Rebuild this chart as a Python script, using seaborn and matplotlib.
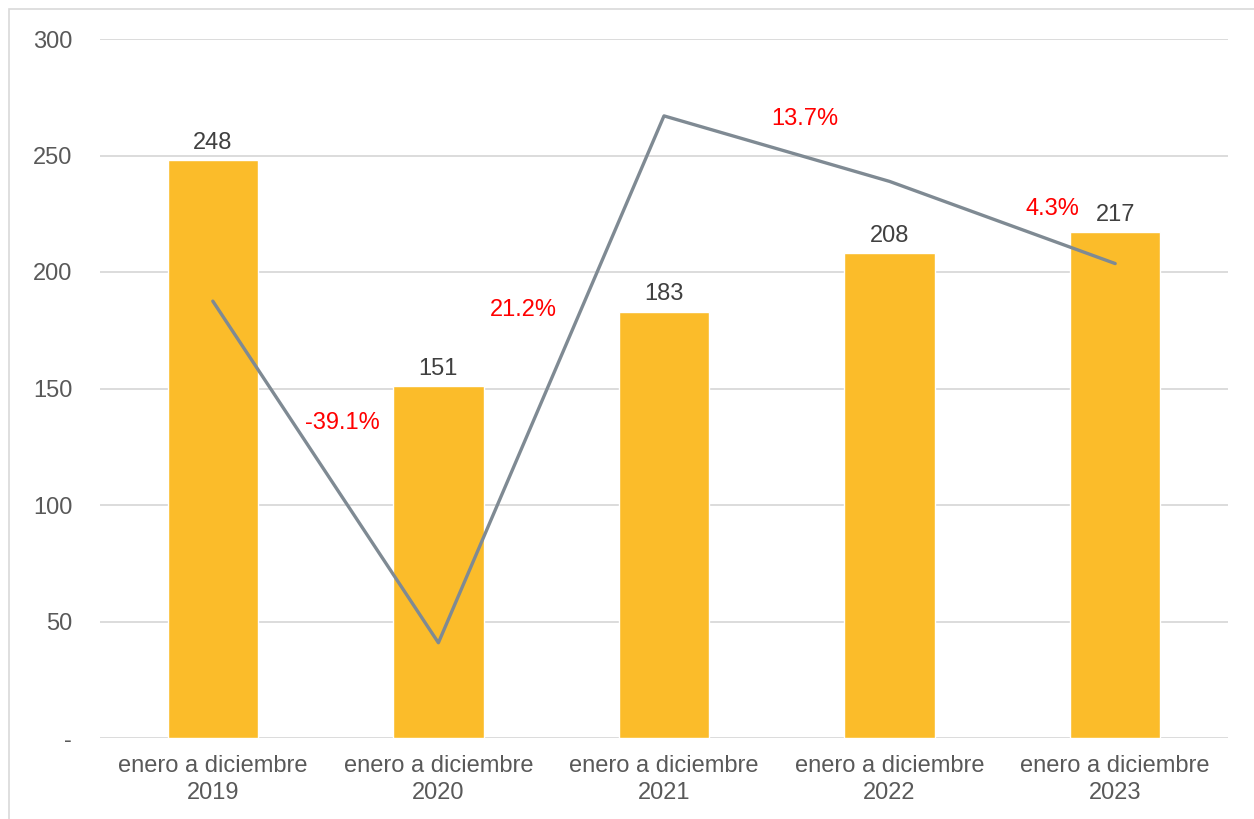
import numpy as np
import pandas as pd
import matplotlib
matplotlib.use("Agg")
import matplotlib.pyplot as plt
import seaborn as sns
from matplotlib.patches import Rectangle
from matplotlib.ticker import FuncFormatter

# data
periods = ["enero a diciembre\n2019", "enero a diciembre\n2020", "enero a diciembre\n2021",
           "enero a diciembre\n2022", "enero a diciembre\n2023"]
totals = [248, 151, 183, 208, 217]
growth = [0.0, -39.1, 21.2, 13.7, 4.3]
growth_labels = ["", "-39.1%", "21.2%", "13.7%", "4.3%"]
# label offsets from each line point (points)
label_dx = [0, -69, -101, -61, -45]
label_dy = [0, 158, -140, 45, 39]

sns.set_style("white")
plt.rcParams["font.family"] = ["Liberation Sans", "DejaVu Sans"]
FS = 17

df = pd.DataFrame({"periodo": periods, "total": totals, "growth": growth})

fig = plt.figure(figsize=(12.54, 8.19), dpi=100)
ax = fig.add_axes([100 / 1254, 1 - 738 / 819, 1128 / 1254, 699 / 819])

sns.barplot(data=df, x="periodo", y="total", color="#FBBC2A", saturation=1,
            width=0.4, ax=ax, zorder=2)
ax.bar_label(ax.containers[0], fontsize=FS, color="#404040", padding=4.5)

ax.set_ylim(0, 300)
ax.set_yticks(range(0, 301, 50))
ax.yaxis.set_major_formatter(FuncFormatter(lambda v, p: "-" if v == 0 else f"{v:.0f}"))
ax.grid(axis="y", color="#D9D9D9", linewidth=1.3, zorder=0)
ax.set_axisbelow(True)
for s in ax.spines.values():
    s.set_visible(False)
ax.tick_params(axis="y", length=0, pad=20, labelsize=FS, labelcolor="#595959")
ax.tick_params(axis="x", length=0, pad=12.5, labelsize=FS, labelcolor="#595959")
for t in ax.get_xticklabels():
    t.set_linespacing(1.28)
ax.set_xlabel("")
ax.set_ylabel("")

# growth line on a hidden secondary axis
ax2 = ax.twinx()
sns.lineplot(x=np.arange(len(growth)), y=df["growth"], color="#7F8A93", linewidth=2.4,
             ax=ax2, zorder=3)
ax2.set_ylim(-50, 30)
ax2.set_yticks([])
ax2.set_ylabel("")
for s in ax2.spines.values():
    s.set_visible(False)
ax.set_xlim(-0.5, len(periods) - 0.5)

for i, lab in enumerate(growth_labels):
    if lab:
        ax2.annotate(lab, (i, growth[i]), xytext=(label_dx[i], label_dy[i]),
                     textcoords="offset points", ha="center", va="center",
                     fontsize=FS, color="#FF0000")

# light frame around the chart area
fig.patches.append(Rectangle((9 / 1254, -0.1), 1.2, 1.1 - 9 / 819,
                             transform=fig.transFigure, fill=False,
                             edgecolor="#D9D9D9", linewidth=1.2))

fig.savefig("out.png", dpi=100)
